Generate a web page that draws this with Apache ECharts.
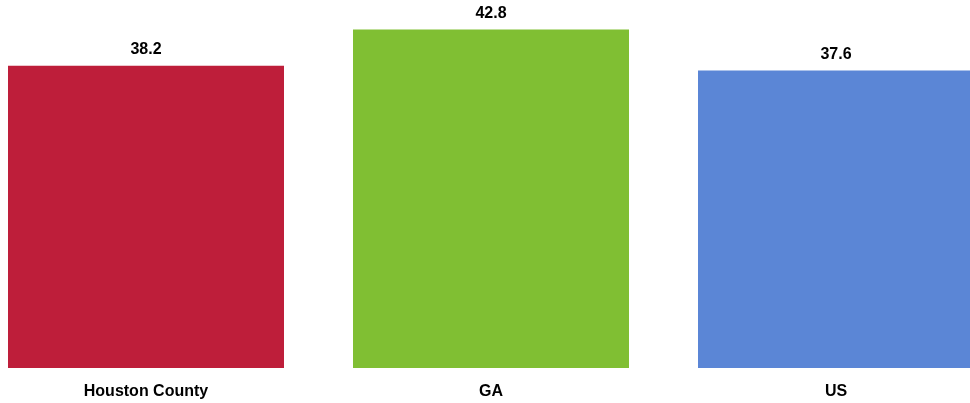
<!DOCTYPE html>
<html>
<head>
<meta charset="utf-8">
<script src="https://cdn.jsdelivr.net/npm/echarts@6/dist/echarts.min.js"></script>
<style>
html,body{margin:0;padding:0;background:#fff;}
#chart{width:970px;height:403px;}
</style>
</head>
<body>
<div id="chart"></div>
<script>
var categories = ['Houston County', 'GA', 'US'];
var values = [38.2, 42.8, 37.6];
var colors = ['#BE1E3A', '#80BF33', '#5B86D6'];

var FONT = "'Liberation Sans', Arial, sans-serif";
var chart = echarts.init(document.getElementById('chart'), null, {renderer: 'canvas'});
chart.setOption({
  animation: false,
  backgroundColor: '#ffffff',
  grid: {left: -26.5, width: 1035, top: 12, bottom: 35, containLabel: false, outerBoundsMode: 'none'},
  xAxis: {
    type: 'category',
    data: categories,
    axisLine: {show: false},
    axisTick: {show: false},
    axisLabel: {margin: 16, color: '#000', fontWeight: 'bold', fontSize: 16, fontFamily: FONT}
  },
  yAxis: {
    type: 'value', min: 0, max: 45,
    show: false,
    splitLine: {show: false}
  },
  series: [{
    type: 'bar',
    barWidth: 276,
    data: values.map(function (v, i) { return {value: v, itemStyle: {color: colors[i]}}; }),
    label: {show: true, position: 'top', distance: 8, color: '#000', fontWeight: 'bold', fontSize: 16, fontFamily: FONT}
  }]
});
</script>
</body>
</html>
